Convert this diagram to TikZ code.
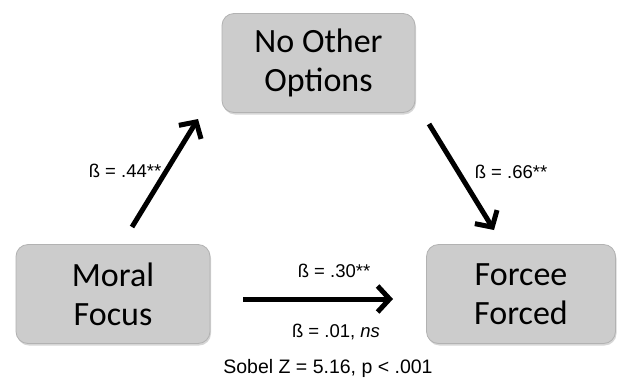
\documentclass[tikz,border=0pt]{standalone}
\usepackage{fontspec}
\setmainfont{Liberation Sans}
\newfontfamily\boxfont{Carlito}
\usetikzlibrary{arrows.meta,shadows}
\begin{document}
\begin{tikzpicture}[x=1pt,y=-1pt,
  varbox/.style={draw=black!30, line width=0.8pt, fill=black!20, rounded corners=12pt,
    minimum height=99pt, align=center, inner sep=0pt,
    font=\boxfont\fontsize{34}{39}\selectfont,
    drop shadow={shadow xshift=1pt, shadow yshift=-2pt, opacity=0.35, fill=black!45}},
  bigarrow/.style={line width=5pt, -{Straight Barb[length=12pt,width=26pt]}},
  coef/.style={font=\fontsize{18.5}{21}\selectfont, inner sep=0pt}
]
\useasboundingbox (0,0) rectangle (618,381);
\fill[white] (0,0) rectangle (618,381);

\node[varbox, minimum width=193pt] (med) at (318.5,63) {No Other\\Options};
\node[varbox, minimum width=194pt] (iv) at (113,294) {Moral\\Focus};
\node[varbox, minimum width=189pt] (dv) at (521,294) {Forcee\\Forced};

\coordinate (a1s) at (132,227); \coordinate (a1e) at (198,119);
\coordinate (a2s) at (429,124); \coordinate (a2e) at (494,230);
\coordinate (a3s) at (243,299); \coordinate (a3e) at (393,299);

\draw[bigarrow] (a1s) -- (a1e);
\draw[bigarrow] (a2s) -- (a2e);
\draw[bigarrow] (a3s) -- (a3e);

\node[coef] (l1) at (125,171) {ß = .44**};
\node[coef] (l2) at (511,172) {ß = .66**};
\node[coef] (l3) at (334,271) {ß = .30**};
\node[coef] (l4) at (336,332) {ß = .01, \textit{ns}};
\node[font=\fontsize{19.5}{22}\selectfont, inner sep=0pt] (sobel) at (328,368) {Sobel Z = 5.16, p < .001};
\end{tikzpicture}
\end{document}
